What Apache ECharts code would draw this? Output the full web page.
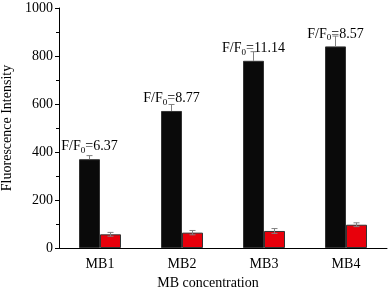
<!DOCTYPE html>
<html>
<head>
<meta charset="utf-8">
<script src="https://cdn.jsdelivr.net/npm/echarts@6/dist/echarts.min.js"></script>
<style>
  html, body { margin: 0; padding: 0; background: #fff; }
  #main { width: 389px; height: 294px; }
</style>
</head>
<body>
<div id="main"></div>
<script>
// data
var categories = ['MB1', 'MB2', 'MB3', 'MB4']
var blackValues = [370, 571, 780, 840]
var blackErrors = [15, 27, 38, 43]
var redValues = [57, 64, 71, 97]
var redErrors = [8, 9, 10, 8]
var ratioLabels = ['6.37', '8.77', '11.14', '8.57']

var FONT = 'Liberation Serif'
var BAR_W = 21

// error bar drawer, side = -1 for the black bar, +1 for the red one
// upOnly: the lower half sits inside the black bar and is not seen
function errorSeries(values, errors, side, upOnly) {
    return {
        type: 'custom',
        z: 5,
        silent: true,
        data: values.map(function (v, i) { return [i, v, errors[i]] }),
        renderItem: function (params, api) {
            var i = api.value(0)
            var v = api.value(1)
            var e = api.value(2)
            var top = api.coord([i, v + e])
            var bot = api.coord([i, upOnly ? v : v - e])
            var x = top[0] + side * BAR_W / 2
            var cap = 3
            var st = { stroke: '#808080', lineWidth: 1 }
            var kids = [
                { type: 'line', shape: { x1: x, y1: top[1], x2: x, y2: bot[1] }, style: st },
                { type: 'line', shape: { x1: x - cap, y1: top[1], x2: x + cap, y2: top[1] }, style: st }
            ]
            if (!upOnly) {
                kids.push({ type: 'line', shape: { x1: x - cap, y1: bot[1], x2: x + cap, y2: bot[1] }, style: st })
            }
            return { type: 'group', children: kids }
        }
    }
}

var myChart = echarts.init(document.getElementById('main'))
myChart.setOption({
    animation: false,
    textStyle: { fontFamily: FONT },
    grid: { left: 59, right: 2, top: 8, bottom: 46, containLabel: false, outerBoundsMode: 'none' },
    xAxis: {
        type: 'category',
        data: categories,
        name: 'MB concentration',
        nameLocation: 'middle',
        nameGap: 27,
        nameTextStyle: { fontFamily: FONT, fontSize: 14, color: '#000', padding: [0, 30, 0, 0] },
        axisLine: { lineStyle: { color: '#000', width: 1 } },
        axisTick: { alignWithLabel: true, length: 4, lineStyle: { color: '#000' } },
        axisLabel: { fontFamily: FONT, fontSize: 14, color: '#000', margin: 9 }
    },
    yAxis: {
        type: 'value',
        min: 0,
        max: 1000,
        interval: 200,
        name: 'Fluorescence Intensity',
        nameLocation: 'middle',
        nameGap: 43,
        nameTextStyle: { fontFamily: FONT, fontSize: 14, color: '#000' },
        axisLine: { show: true, lineStyle: { color: '#000', width: 1 } },
        axisTick: { show: true, length: 4, lineStyle: { color: '#000' } },
        minorTick: { show: true, splitNumber: 2, length: 3, lineStyle: { color: '#000' } },
        splitLine: { show: false },
        axisLabel: { fontFamily: FONT, fontSize: 14, color: '#000', margin: 6, formatter: function (v) { return String(v) } }
    },
    series: [
        {
            type: 'bar',
            data: blackValues,
            barWidth: BAR_W,
            barGap: '0%',
            itemStyle: { color: '#0a0a0a', borderColor: '#333', borderWidth: 1 },
            label: {
                show: true,
                position: 'top',
                distance: 4,
                fontFamily: FONT,
                fontSize: 14,
                color: '#000',
                formatter: function (p) {
                    return 'F/F{s|0}=' + ratioLabels[p.dataIndex]
                },
                rich: {
                    s: { fontFamily: FONT, fontSize: 9, color: '#000', padding: [8, 0, 0, 0] }
                }
            }
        },
        {
            type: 'bar',
            data: redValues,
            barWidth: BAR_W,
            barGap: '0%',
            itemStyle: { color: '#e8000b', borderColor: '#333', borderWidth: 1 }
        },
        errorSeries(blackValues, blackErrors, -1, true),
        errorSeries(redValues, redErrors, 1, false)
    ]
})
myChart.resize()
</script>
</body>
</html>
